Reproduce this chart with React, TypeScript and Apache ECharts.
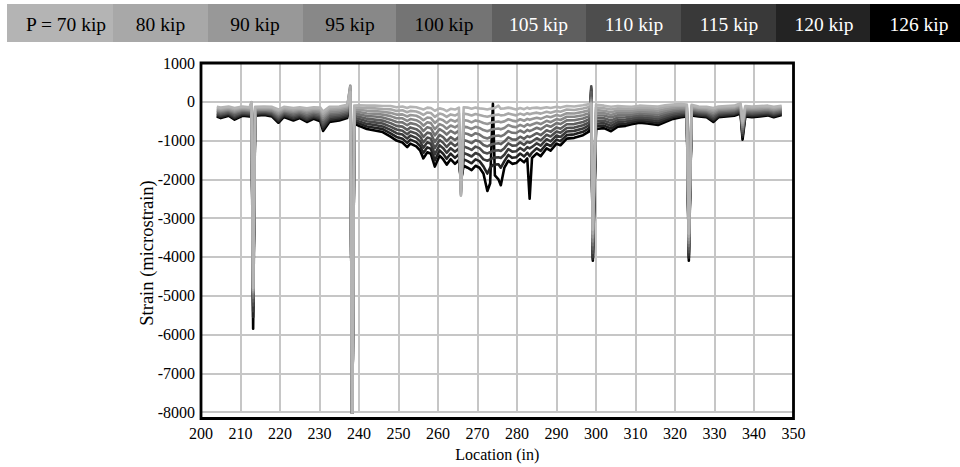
import React, { useEffect, useRef } from "react";
import * as echarts from "echarts";

// Location along the member (in)
const locations = [
  204, 205, 207, 208.5, 210.5, 212.3, 212.8, 213.2, 213.7, 216,
  218, 219.6, 221, 223.4, 225, 226.8, 228.5, 230.2, 230.9, 232.5,
  235, 237, 237.8, 238.3, 238.8, 240, 242, 244, 246, 248,
  249.5, 251, 252.2, 253, 254.5, 255.5, 256.3, 257.3, 258.2, 259.2,
  260.4, 261.3, 262.2, 263.2, 264.3, 265.3, 265.8, 266.5, 267.5, 268.5,
  269.5, 270.5, 271.5, 272.5, 273.2, 273.9, 274.4, 275.3, 275.9, 276.8,
  277.8, 278.8, 279.8, 280.8, 281.8, 282.6, 283.2, 283.8, 285, 286,
  287.5, 288.5, 290, 291, 292.6, 294.5, 296.7, 298.3, 298.8, 299.2,
  300, 302, 303.8, 305.5, 307.5, 309, 311, 313, 315.7, 317.5,
  319.5, 321.5, 323, 323.5, 324.2, 326, 328, 329.7, 331, 333,
  335, 336.6, 337.1, 337.8, 339.5, 341.5, 343.5, 345, 347,
];

// Strain (microstrain) for each load level
const p70 = [
  -130, -150, -120, -160, -120, -140, -10, -4800, -130, -120,
  -130, -200, -130, -160, -140, -170, -140, -150, -250, -130,
  -120, -80, 250, -8600, -100, -90, -100, -100, -110, -110,
  -140, -120, -160, -130, -140, -170, -200, -150, -160, -230,
  -170, -190, -240, -180, -200, -150, -2420, -140, -150, -180,
  -150, -170, -180, -200, -180, -170, -160, -100, -180, -170,
  -150, -170, -200, -160, -190, -150, -180, -160, -150, -170,
  -140, -160, -130, -150, -110, -120, -90, -60, -50, -3300,
  -80, -100, -130, -110, -120, -130, -100, -110, -120, -90,
  -70, -60, -70, -3400, -80, -120, -130, -160, -120, -110,
  -100, -40, -500, -110, -120, -110, -100, -130, -100,
];
const p80 = [
  -160, -180, -145, -195, -145, -165, -15, -4850, -155, -145,
  -160, -235, -160, -195, -170, -210, -175, -190, -305, -175,
  -160, -115, 380, -8600, -150, -150, -165, -170, -185, -195,
  -235, -220, -270, -235, -250, -290, -340, -275, -290, -390,
  -305, -330, -390, -325, -355, -300, -2400, -305, -320, -355,
  -315, -340, -365, -385, -365, -350, -340, -330, -350, -340,
  -300, -325, -350, -305, -340, -295, -320, -300, -280, -305,
  -255, -280, -235, -255, -200, -210, -175, -135, -40, -3400,
  -150, -165, -200, -170, -175, -180, -150, -160, -175, -135,
  -110, -95, -105, -3480, -110, -150, -160, -200, -150, -140,
  -130, -70, -550, -140, -150, -140, -130, -160, -125,
];
const p90 = [
  -185, -210, -175, -225, -175, -195, -20, -4900, -180, -170,
  -185, -275, -185, -230, -200, -245, -205, -225, -360, -215,
  -200, -155, 420, -8600, -200, -205, -230, -240, -255, -285,
  -330, -325, -380, -340, -360, -410, -475, -405, -420, -545,
  -440, -475, -545, -465, -510, -445, -2380, -470, -490, -530,
  -480, -505, -545, -570, -545, -530, -520, -510, -530, -505,
  -450, -485, -505, -450, -490, -440, -465, -445, -410, -440,
  -375, -400, -340, -365, -295, -300, -260, -215, 0, -3500,
  -215, -230, -270, -225, -230, -230, -195, -210, -225, -185,
  -150, -135, -140, -3560, -140, -175, -190, -240, -180, -170,
  -155, -95, -600, -170, -180, -170, -155, -190, -155,
];
const p95 = [
  -215, -240, -200, -260, -200, -220, -25, -4950, -205, -195,
  -215, -310, -215, -265, -230, -285, -240, -265, -415, -260,
  -240, -190, 400, -8600, -250, -265, -300, -310, -330, -370,
  -425, -425, -495, -445, -475, -530, -615, -530, -550, -705,
  -575, -615, -695, -610, -660, -595, -2350, -640, -660, -700,
  -645, -675, -730, -760, -730, -710, -700, -690, -710, -675,
  -600, -640, -655, -595, -640, -580, -610, -585, -540, -575,
  -490, -525, -445, -470, -385, -385, -345, -290, 50, -3600,
  -285, -290, -340, -285, -285, -280, -245, -260, -280, -230,
  -190, -170, -170, -3640, -170, -205, -220, -280, -210, -200,
  -185, -125, -650, -200, -210, -200, -185, -220, -180,
];
const p100 = [
  -240, -270, -225, -290, -225, -245, -30, -5050, -230, -215,
  -240, -350, -245, -300, -265, -325, -270, -305, -470, -300,
  -280, -230, 350, -8600, -300, -325, -365, -380, -405, -460,
  -520, -530, -605, -550, -585, -650, -755, -655, -680, -865,
  -705, -760, -845, -750, -815, -745, -2320, -805, -830, -875,
  -810, -845, -915, -945, -915, -890, -880, -870, -890, -845,
  -755, -800, -805, -740, -795, -725, -755, -730, -670, -710,
  -605, -645, -550, -575, -480, -475, -430, -370, 100, -3700,
  -355, -355, -405, -345, -340, -330, -295, -310, -330, -280,
  -235, -210, -205, -3720, -200, -235, -250, -320, -245, -230,
  -215, -155, -700, -230, -245, -230, -210, -250, -205,
];
const p105 = [
  -270, -300, -255, -330, -255, -275, -35, -5150, -260, -245,
  -270, -390, -275, -340, -295, -365, -310, -345, -530, -350,
  -320, -270, 300, -8600, -360, -385, -435, -460, -485, -550,
  -620, -640, -725, -660, -705, -780, -905, -795, -820, -1035,
  -855, -910, -1015, -910, -985, -905, -2280, -985, -1020, -1065,
  -990, -1025, -1115, -1150, -1115, -1090, -1080, -1070, -1090, -1025,
  -915, -970, -975, -900, -955, -885, -910, -880, -810, -860,
  -735, -775, -660, -695, -580, -575, -520, -450, 250, -3800,
  -425, -425, -485, -405, -400, -380, -345, -360, -390, -330,
  -275, -250, -245, -3800, -230, -265, -280, -360, -275, -260,
  -245, -185, -750, -260, -275, -260, -240, -280, -235,
];
const p110 = [
  -300, -330, -280, -360, -280, -300, -40, -5250, -285, -265,
  -300, -430, -305, -375, -330, -405, -340, -385, -585, -390,
  -360, -310, 250, -8600, -410, -445, -500, -530, -560, -640,
  -715, -745, -835, -765, -815, -900, -1045, -920, -950, -1195,
  -985, -1055, -1165, -1050, -1140, -1055, -2240, -1150, -1190, -1240,
  -1155, -1195, -1300, -1330, -1300, -1270, -1260, -1250, -1270, -1195,
  -1070, -1130, -1125, -1045, -1110, -1030, -1055, -1025, -940, -995,
  -850, -895, -765, -800, -675, -665, -605, -530, 400, -3900,
  -495, -490, -550, -465, -455, -430, -395, -410, -440, -380,
  -320, -290, -280, -3880, -260, -295, -310, -400, -310, -290,
  -275, -215, -800, -290, -310, -290, -270, -310, -260,
];
const p115 = [
  -325, -360, -305, -395, -305, -325, -45, -5400, -310, -290,
  -325, -465, -335, -410, -360, -445, -375, -425, -640, -435,
  -400, -345, 200, -8600, -460, -505, -570, -600, -635, -725,
  -810, -845, -950, -870, -930, -1020, -1185, -1045, -1080, -1355,
  -1120, -1195, -1315, -1195, -1290, -1205, -2200, -1320, -1360, -1410,
  -1320, -1365, -1485, -1520, -1485, -1450, -1440, -1430, -1450, -1365,
  -1220, -1285, -1275, -1190, -1260, -1170, -1200, -1165, -1070, -1130,
  -965, -1020, -870, -905, -765, -750, -690, -605, 350, -4000,
  -565, -550, -620, -525, -510, -480, -445, -460, -495, -425,
  -360, -325, -310, -3950, -290, -325, -340, -440, -340, -320,
  -305, -245, -850, -320, -340, -320, -295, -340, -285,
];
const p120 = [
  -355, -390, -335, -425, -335, -355, -50, -5550, -335, -315,
  -355, -505, -360, -445, -390, -480, -405, -460, -695, -475,
  -440, -385, 150, -8600, -510, -560, -635, -670, -705, -815,
  -905, -950, -1060, -975, -1040, -1140, -1320, -1175, -1210, -1510,
  -1255, -1340, -1470, -1335, -1445, -1350, -2100, -1485, -1530, -1585,
  -1485, -1530, -1665, -1850, -1700, -1630, -1620, -1610, -1700, -1530,
  -1370, -1445, -1430, -1335, -1410, -1315, -1400, -1310, -1200, -1265,
  -1085, -1140, -975, -1015, -860, -840, -775, -685, 300, -4050,
  -630, -615, -690, -580, -565, -530, -490, -510, -545, -475,
  -400, -365, -345, -4020, -320, -350, -370, -480, -370, -350,
  -330, -270, -900, -350, -370, -350, -325, -370, -315,
];
const p126 = [
  -380, -420, -360, -460, -360, -380, -60, -5850, -360, -340,
  -380, -540, -390, -480, -420, -520, -440, -500, -750, -520,
  -480, -420, 100, -8600, -560, -620, -700, -740, -780, -900,
  -1000, -1050, -1170, -1080, -1150, -1260, -1460, -1300, -1340, -1670,
  -1390, -1480, -1620, -1480, -1600, -1500, -2000, -1650, -1700, -1760,
  -1650, -1700, -1850, -2300, -2100, -50, -1900, -2000, -2150, -1700,
  -1520, -1600, -1580, -1480, -1560, -1460, -2500, -1450, -1330, -1400,
  -1200, -1260, -1080, -1120, -950, -930, -860, -760, 200, -4100,
  -700, -680, -760, -640, -620, -580, -540, -560, -600, -520,
  -440, -400, -380, -4100, -350, -380, -400, -520, -400, -380,
  -360, -300, -975, -380, -400, -380, -350, -400, -340,
];

const loadLabels = [
  "P = 70 kip", "80 kip", "90 kip", "95 kip", "100 kip",
  "105 kip", "110 kip", "115 kip", "120 kip", "126 kip",
];
const loadSeries = [p70, p80, p90, p95, p100, p105, p110, p115, p120, p126];

const loadColors = [
  "#b4b4b4", "#a8a8a8", "#989898", "#888888", "#747474",
  "#5f5f5f", "#4d4d4d", "#393939", "#232323", "#000000",
];

// Layout of the load key strip (pixels)
const cellEdges = [7, 113, 208, 303, 396, 492, 586, 681, 776, 870, 962];
const labelCenters = [66, 160.5, 255, 350, 444, 538.5, 634, 729, 824, 919];

const FONT = '"Liberation Serif", "Times New Roman", serif';

export default function App() {
  const ref = useRef<HTMLDivElement>(null);

  useEffect(() => {
    if (!ref.current) return;
    const chart = echarts.init(ref.current, null, { renderer: "svg" });

    const series: any[] = loadSeries
      .map((vals, i) => ({
        type: "line",
        name: loadLabels[i],
        data: locations.map((x, j) => [x, vals[j]]),
        symbol: "none",
        showSymbol: false,
        silent: true,
        clip: true,
        lineStyle: { color: loadColors[i], width: 2.6, join: "round" },
        itemStyle: { color: loadColors[i] },
      }))
      .reverse();

    const legendGraphics: any[] = [];
    loadLabels.forEach((label, i) => {
      legendGraphics.push({
        type: "rect",
        silent: true,
        shape: {
          x: cellEdges[i],
          y: 4,
          width: cellEdges[i + 1] - cellEdges[i] + 0.5,
          height: 38,
        },
        style: { fill: loadColors[i] },
      });
      legendGraphics.push({
        type: "text",
        silent: true,
        x: labelCenters[i],
        y: 24,
        style: {
          text: label,
          fill: i < 5 ? "#000" : "#fff",
          font: `19.5px ${FONT}`,
          textAlign: "center",
          textVerticalAlign: "middle",
          align: "center",
          verticalAlign: "middle",
        },
      });
    });

    const gridLeft = 201;
    const gridTop = 63;
    const gridW = 592.5;
    const gridH = 355.5;

    chart.setOption({
      animation: false,
      backgroundColor: "#fff",
      grid: {
        left: gridLeft,
        top: gridTop,
        width: gridW,
        height: gridH,
        containLabel: false,
      },
      xAxis: {
        type: "value",
        min: 200,
        max: 350,
        interval: 10,
        axisLine: { show: false },
        axisTick: { show: false },
        splitLine: { show: true, lineStyle: { color: "#c6c6c6", width: 2 } },
        axisLabel: {
          fontFamily: FONT,
          fontSize: 16,
          color: "#000",
          margin: 13,
          formatter: (v: number) => String(v),
        },
        name: "Location (in)",
        nameLocation: "middle",
        nameGap: 32,
        nameTextStyle: { fontFamily: FONT, fontSize: 16, color: "#000" },
      },
      yAxis: {
        type: "value",
        min: -8000,
        max: 1000,
        interval: 1000,
        axisLine: { show: false },
        axisTick: { show: false },
        splitLine: { show: true, lineStyle: { color: "#c6c6c6", width: 2 } },
        axisLabel: {
          fontFamily: FONT,
          fontSize: 16,
          color: "#000",
          margin: 6,
          formatter: (v: number) => String(v),
        },
      },
      series,
      graphic: [
        ...legendGraphics,
        {
          type: "text",
          silent: true,
          x: 147,
          y: 253,
          rotation: Math.PI / 2,
          style: {
            text: "Strain (microstrain)",
            fill: "#000",
            font: `18.5px ${FONT}`,
            textAlign: "center",
            textVerticalAlign: "middle",
            align: "center",
            verticalAlign: "middle",
          },
        },
        {
          type: "rect",
          silent: true,
          z: 100,
          shape: { x: gridLeft, y: gridTop, width: gridW, height: gridH },
          style: { fill: "none", stroke: "#000", lineWidth: 2.8 },
        },
      ],
    });

    return () => {
      chart.dispose();
    };
  }, []);

  return (
    <div
      ref={ref}
      style={{ position: "absolute", left: 0, top: 0, width: 960, height: 467 }}
    />
  );
}
